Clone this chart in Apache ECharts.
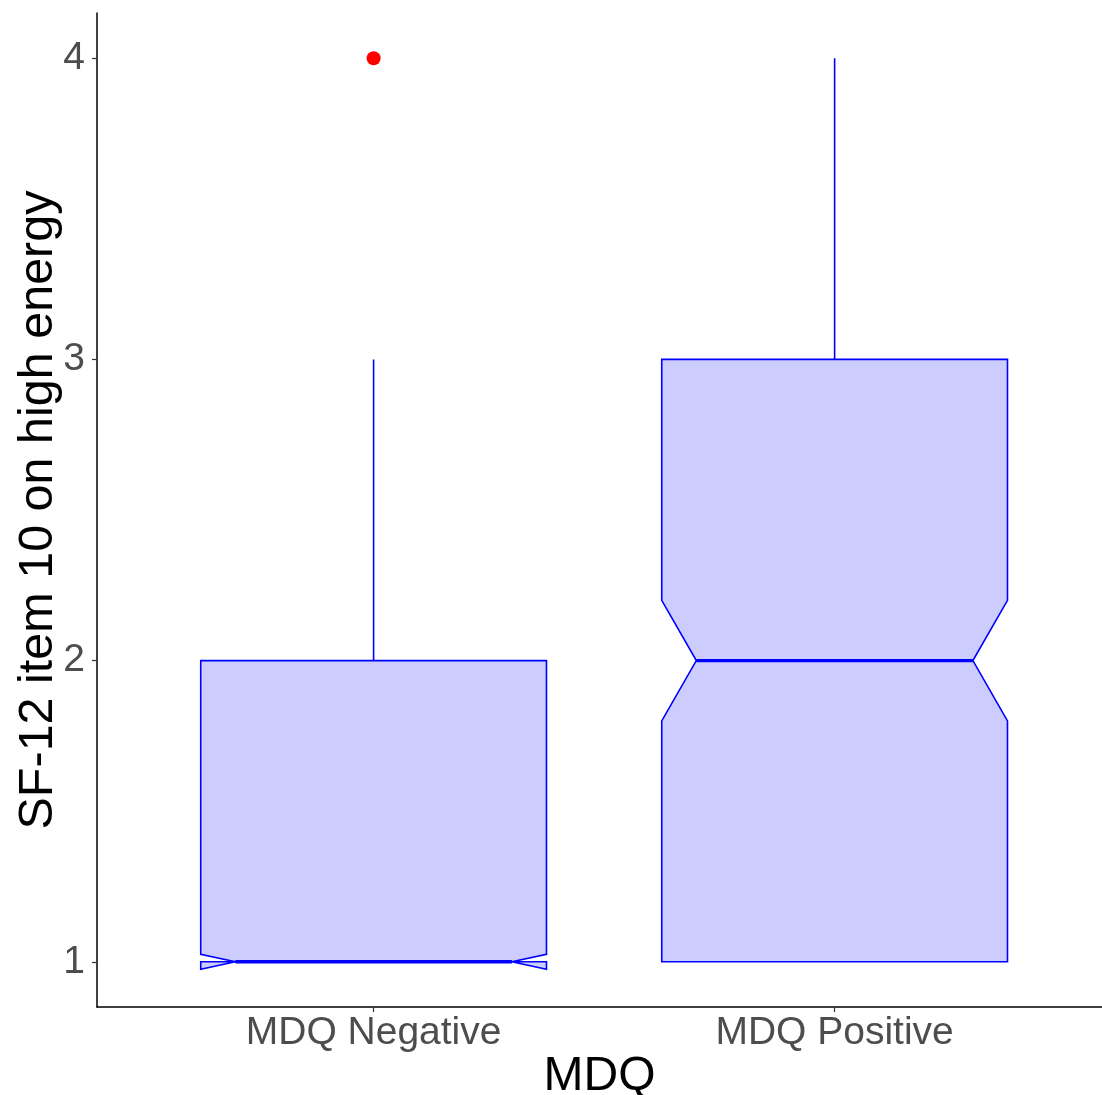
<!DOCTYPE html>
<html>
<head>
<meta charset="utf-8">
<title>SF-12 item 10 by MDQ</title>
<script src="https://cdn.jsdelivr.net/npm/echarts@6/dist/echarts.min.js"></script>
<style>
  html, body { margin: 0; padding: 0; background: #fff; }
  #main { width: 1102px; height: 1095px; }
</style>
</head>
<body>
<div id="main"></div>
<script>
// box statistics
var categories = ['MDQ Negative', 'MDQ Positive'];
var q1 = [1, 1];
var median = [1, 2];
var q3 = [2, 3];
var whiskerLow = [1, 1];
var whiskerHigh = [3, 4];
var notchLow = [0.975, 1.8];
var notchHigh = [1.025, 2.2];
// outliers as [category index (1-based), value]
var outliers = [[1, 4]];
var yTicks = [1, 2, 3, 4];

var boxWidth = 0.75;
var notchWidth = 0.8;

var boxData = [];
for (var i = 0; i < categories.length; i++) {
  boxData.push([i + 1, q1[i], median[i], q3[i], whiskerLow[i], whiskerHigh[i], notchLow[i], notchHigh[i]]);
}

function renderBox(params, api) {
  var x = api.value(0);
  var half = boxWidth / 2;
  var indent = (1 - notchWidth) / 2 * boxWidth;
  var xmin = x - half, xmax = x + half;
  var lo = api.value(1), mid = api.value(2), hi = api.value(3);
  var wl = api.value(4), wh = api.value(5);
  var nl = api.value(6), nh = api.value(7);
  // same path as ggplot's notched box
  var pts = [
    [xmin, hi], [xmin, nh], [xmin + indent, mid], [xmin, nl], [xmin, lo],
    [xmax, lo], [xmax, nl], [xmax - indent, mid], [xmax, nh], [xmax, hi], [xmin, hi]
  ].map(function (p) { return api.coord(p); });
  var c = api.coord([x, 0]);
  var stroke = '#0000FF';
  return {
    type: 'group',
    children: [
      { type: 'line', shape: { x1: c[0], y1: api.coord([x, hi])[1], x2: c[0], y2: api.coord([x, wh])[1] },
        style: { stroke: stroke, lineWidth: 1.6 } },
      { type: 'line', shape: { x1: c[0], y1: api.coord([x, lo])[1], x2: c[0], y2: api.coord([x, wl])[1] },
        style: { stroke: stroke, lineWidth: 1.6 } },
      { type: 'polygon', shape: { points: pts },
        style: { fill: '#CCCCFF', stroke: stroke, lineWidth: 1.6, lineJoin: 'miter' } },
      { type: 'line', shape: { x1: api.coord([xmin + indent, mid])[0], y1: api.coord([x, mid])[1],
                               x2: api.coord([xmax - indent, mid])[0], y2: api.coord([x, mid])[1] },
        style: { stroke: stroke, lineWidth: 3.4 } }
    ]
  };
}

var myChart = echarts.init(document.getElementById('main'));
var option = {
  animation: false,
  backgroundColor: '#fff',
  textStyle: { fontFamily: 'Liberation Sans, Arial, sans-serif' },
  grid: { left: 97, right: 0, top: 13, bottom: 88, outerBoundsMode: 'none', containLabel: false },
  xAxis: {
    type: 'value',
    min: 0.4,
    max: 2.58,
    name: 'MDQ',
    nameLocation: 'middle',
    nameGap: 46,
    nameMoveOverlap: false,
    nameTextStyle: { fontSize: 48, color: '#000' },
    splitLine: { show: false },
    axisLine: { show: true, onZero: false, lineStyle: { color: '#000', width: 1.5 } },
    axisTick: { show: true, customValues: [1, 2], length: 5, lineStyle: { color: '#333', width: 1.2 } },
    axisLabel: {
      customValues: [1, 2],
      fontSize: 39,
      color: '#4D4D4D',
      margin: 7,
      formatter: function (v) { return categories[Math.round(v) - 1]; }
    }
  },
  yAxis: {
    type: 'value',
    min: 0.85,
    max: 4.15,
    name: 'SF-12 item 10 on high energy',
    nameLocation: 'middle',
    nameGap: 34,
    nameMoveOverlap: false,
    nameTextStyle: { fontSize: 48.5, color: '#000' },
    splitLine: { show: false },
    axisLine: { show: true, onZero: false, lineStyle: { color: '#000', width: 1.5 } },
    axisTick: { show: true, customValues: yTicks, length: 5, lineStyle: { color: '#333', width: 1.2 } },
    axisLabel: { customValues: yTicks, fontSize: 39, color: '#4D4D4D', margin: 12 }
  },
  series: [
    {
      type: 'custom',
      renderItem: renderBox,
      data: boxData,
      encode: { x: 0, y: [1, 2, 3, 4, 5] },
      clip: false
    },
    {
      type: 'scatter',
      data: outliers,
      symbolSize: 14,
      itemStyle: { color: '#FF0000', opacity: 1 }
    }
  ]
};
myChart.setOption(option);
</script>
</body>
</html>
